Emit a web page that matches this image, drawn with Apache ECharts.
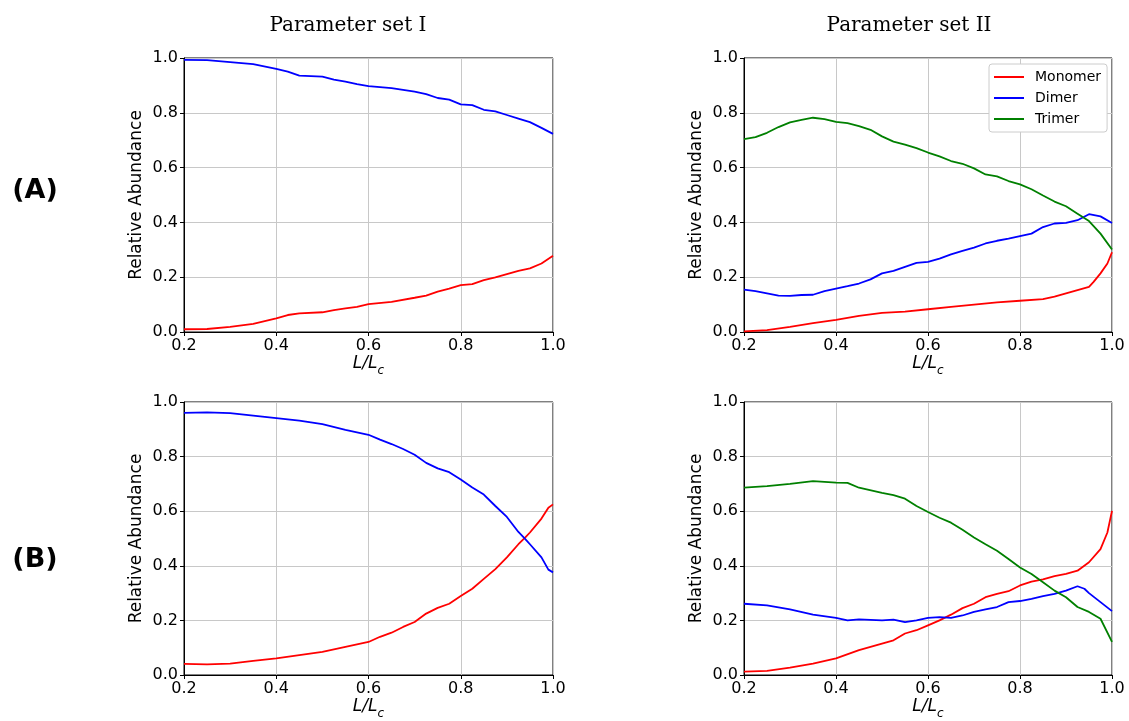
<!DOCTYPE html>
<html><head><meta charset="utf-8">
<script src="https://cdn.jsdelivr.net/npm/echarts@6/dist/echarts.min.js"></script>
<style>html,body{margin:0;padding:0;background:#fff}#c{width:1129px;height:721px}</style>
</head><body><div id="c"></div>
<script>
// ---- data ----
const colTitles = ['Parameter set I', 'Parameter set II'];
const rowLabels = ['(A)', '(B)'];
const seriesNames = ['Monomer', 'Dimer', 'Trimer'];
const xTicks = [0.2, 0.4, 0.6, 0.8, 1.0];
const yTicks = [0.0, 0.2, 0.4, 0.6, 0.8, 1.0];

// Panel A, parameter set I
const xA1 = [0.2,0.25,0.3,0.35,0.4,0.425,0.45,0.5,0.525,0.55,0.575,0.6,0.65,0.7,0.725,0.75,0.775,0.8,0.825,0.85,0.875,0.9,0.925,0.95,0.975,1.0];
const dimerA1 = [0.993,0.992,0.985,0.978,0.96,0.95,0.936,0.932,0.921,0.914,0.905,0.897,0.89,0.877,0.868,0.854,0.848,0.831,0.828,0.811,0.805,0.792,0.779,0.766,0.745,0.723];
const monoA1 = [0.01,0.011,0.019,0.03,0.05,0.062,0.068,0.072,0.08,0.086,0.092,0.102,0.11,0.125,0.133,0.147,0.158,0.171,0.175,0.189,0.199,0.211,0.223,0.232,0.25,0.278];

// Panel A, parameter set II
const xA2 = [0.2,0.225,0.25,0.275,0.3,0.325,0.35,0.375,0.4,0.425,0.45,0.475,0.5,0.525,0.55,0.575,0.6,0.625,0.65,0.675,0.7,0.725,0.75,0.775,0.8,0.825,0.85,0.875,0.9,0.925,0.95,0.975,1.0];
const trimerA2 = [0.704,0.711,0.727,0.748,0.765,0.774,0.782,0.777,0.767,0.762,0.751,0.738,0.714,0.695,0.684,0.671,0.655,0.641,0.624,0.614,0.597,0.575,0.568,0.551,0.539,0.521,0.498,0.476,0.459,0.432,0.405,0.359,0.301];
const dimerA2 = [0.155,0.149,0.141,0.133,0.132,0.135,0.136,0.149,0.158,0.167,0.177,0.192,0.214,0.223,0.238,0.252,0.256,0.268,0.283,0.296,0.308,0.323,0.333,0.341,0.35,0.359,0.383,0.396,0.398,0.408,0.43,0.422,0.398];
const xA2m = [0.2,0.25,0.3,0.35,0.4,0.45,0.5,0.55,0.6,0.65,0.7,0.75,0.8,0.85,0.875,0.9,0.925,0.95,0.96,0.975,0.99,1.0];
const monoA2 = [0.002,0.007,0.019,0.032,0.044,0.059,0.07,0.074,0.083,0.092,0.1,0.108,0.114,0.12,0.129,0.141,0.153,0.165,0.183,0.214,0.25,0.291];

// Panel B, parameter set I
const xB1 = [0.2,0.25,0.3,0.35,0.4,0.45,0.5,0.55,0.6,0.625,0.65,0.675,0.7,0.725,0.75,0.775,0.8,0.825,0.85,0.875,0.9,0.925,0.94,0.95,0.975,0.99,1.0];
const dimerB1 = [0.96,0.962,0.959,0.95,0.941,0.932,0.919,0.898,0.88,0.862,0.846,0.828,0.807,0.777,0.757,0.743,0.716,0.687,0.661,0.619,0.579,0.524,0.498,0.479,0.431,0.386,0.376];
const monoB1 = [0.041,0.039,0.042,0.052,0.061,0.073,0.085,0.103,0.121,0.14,0.155,0.176,0.194,0.225,0.246,0.261,0.289,0.316,0.352,0.388,0.431,0.479,0.504,0.522,0.573,0.613,0.625];

// Panel B, parameter set II
const xB2 = [0.2,0.25,0.3,0.35,0.4,0.425,0.45,0.5,0.525,0.55,0.575,0.6,0.625,0.65,0.675,0.7,0.725,0.75,0.775,0.8,0.825,0.85,0.875,0.9,0.925,0.95,0.975,1.0];
const trimerB2 = [0.686,0.692,0.7,0.71,0.705,0.704,0.686,0.667,0.659,0.646,0.619,0.597,0.576,0.558,0.532,0.504,0.479,0.455,0.425,0.394,0.37,0.34,0.309,0.285,0.249,0.231,0.206,0.121];
const xB2d = [0.2,0.25,0.3,0.35,0.4,0.425,0.45,0.5,0.525,0.55,0.575,0.6,0.625,0.65,0.675,0.7,0.725,0.75,0.775,0.8,0.825,0.85,0.875,0.9,0.925,0.94,0.95,0.975,1.0];
const dimerB2 = [0.261,0.255,0.24,0.221,0.209,0.2,0.204,0.2,0.203,0.194,0.2,0.209,0.212,0.209,0.218,0.231,0.24,0.249,0.267,0.271,0.279,0.289,0.297,0.309,0.325,0.316,0.3,0.267,0.234];
const xB2m = [0.2,0.25,0.3,0.35,0.4,0.45,0.5,0.525,0.55,0.575,0.6,0.625,0.65,0.675,0.7,0.725,0.75,0.775,0.8,0.825,0.85,0.875,0.9,0.925,0.95,0.975,0.99,1.0];
const monoB2 = [0.012,0.015,0.027,0.042,0.061,0.091,0.115,0.127,0.152,0.164,0.182,0.2,0.221,0.245,0.261,0.285,0.297,0.307,0.328,0.342,0.35,0.362,0.37,0.382,0.413,0.461,0.522,0.601];

// ---- chart ----
const COLORS = {Monomer:'#ff0000', Dimer:'#0000ff', Trimer:'#008000'};
const pairs = (xs, ys) => xs.map((x, i) => [x, ys[i]]);
const grids = [
  {left:184, top:58, width:369, height:274},
  {left:744, top:58, width:368, height:274},
  {left:184, top:402, width:369, height:274},
  {left:744, top:402, width:368, height:274}
];
const panels = [
  [['Monomer', xA1, monoA1], ['Dimer', xA1, dimerA1]],
  [['Monomer', xA2m, monoA2], ['Dimer', xA2, dimerA2], ['Trimer', xA2, trimerA2]],
  [['Monomer', xB1, monoB1], ['Dimer', xB1, dimerB1]],
  [['Monomer', xB2m, monoB2], ['Dimer', xB2d, dimerB2], ['Trimer', xB2, trimerB2]]
];
const tickFont = {fontFamily:'DejaVu Sans', fontSize:16, color:'#000'};
const xAxes = grids.map((g, i) => ({
  type:'value', gridIndex:i, min:xTicks[0], max:xTicks[xTicks.length-1], interval:0.2,
  axisLine:{show:true, onZero:false, lineStyle:{color:'#000', width:1}},
  axisTick:{show:true, inside:false, length:4, lineStyle:{color:'#000'}},
  axisLabel:Object.assign({margin:6, formatter:v => v.toFixed(1)}, tickFont),
  splitLine:{show:true, lineStyle:{color:'#c8c8c8', width:1}},
  name:'{i|L/L}{s|c}', nameLocation:'middle', nameGap:20,
  nameTextStyle:{rich:{
    i:{fontFamily:'DejaVu Sans', fontStyle:'italic', fontSize:17, color:'#000', lineHeight:20, verticalAlign:'bottom'},
    s:{fontFamily:'DejaVu Sans', fontStyle:'italic', fontSize:12, color:'#000', lineHeight:20, verticalAlign:'bottom', padding:[0,0,-5,0]}
  }}
}));
const yAxes = grids.map((g, i) => ({
  type:'value', gridIndex:i, min:0, max:1, interval:0.2,
  axisLine:{show:true, lineStyle:{color:'#000', width:1}},
  axisTick:{show:true, inside:false, length:4, lineStyle:{color:'#000'}},
  axisLabel:Object.assign({margin:6, formatter:v => v.toFixed(1)}, tickFont),
  splitLine:{show:true, lineStyle:{color:'#c8c8c8', width:1}},
  name:'Relative Abundance', nameLocation:'middle', nameGap:39,
  nameTextStyle:{fontFamily:'DejaVu Sans', fontSize:17, color:'#000'}
}));
const series = [];
panels.forEach((p, i) => p.forEach(([name, xs, ys]) => {
  series.push({type:'line', name, xAxisIndex:i, yAxisIndex:i, data:pairs(xs, ys),
    symbol:'none', showSymbol:false, silent:true, animation:false,
    lineStyle:{color:COLORS[name], width:1.8}, itemStyle:{color:COLORS[name]}});
}));
const chart = echarts.init(document.getElementById('c'), null, {renderer:'canvas'});
chart.setOption({
  backgroundColor:'#fff',
  animation:false,
  title:[
    {text:colTitles[0], left:343, top:11, textAlign:'center', textStyle:{fontFamily:'DejaVu Serif', fontWeight:'normal', fontSize:20, color:'#000'}},
    {text:colTitles[1], left:904, top:11, textAlign:'center', textStyle:{fontFamily:'DejaVu Serif', fontWeight:'normal', fontSize:20, color:'#000'}},
    {text:rowLabels[0], left:30, top:172, textAlign:'center', textStyle:{fontFamily:'DejaVu Sans', fontWeight:'bold', fontSize:27, color:'#000'}},
    {text:rowLabels[1], left:30, top:541, textAlign:'center', textStyle:{fontFamily:'DejaVu Sans', fontWeight:'bold', fontSize:27, color:'#000'}}
  ],
  legend:{
    data:seriesNames, orient:'vertical', left:989, top:64,
    itemWidth:30, itemHeight:2, itemGap:7,
    backgroundColor:'#fff', borderColor:'#cccccc', borderWidth:1, borderRadius:3,
    padding:[6,6,6,4],
    textStyle:{fontFamily:'DejaVu Sans', fontSize:14, color:'#000', padding:[0,0,0,6]},
    selectedMode:false
  },
  grid:grids.map(g => Object.assign({show:true, borderColor:'#000', borderWidth:1, backgroundColor:'transparent'}, g)),
  xAxis:xAxes, yAxis:yAxes, series
});
</script></body></html>
